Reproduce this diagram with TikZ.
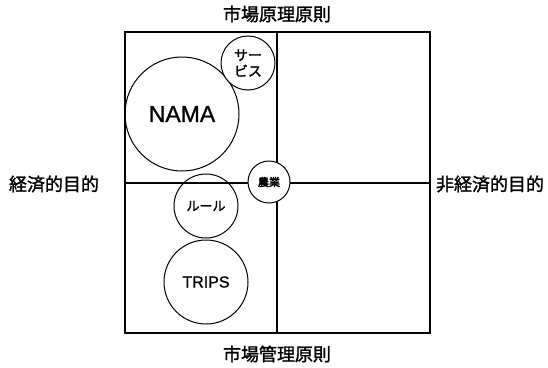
\documentclass[tikz,border=0pt]{standalone}
\usepackage{fontspec}
\setmainfont[FakeBold=1]{Liberation Sans}
\newfontfamily\jp[FakeBold=1.5]{Noto Sans CJK JP}
\newfontfamily\jpb[FakeBold=3]{Noto Sans CJK JP}
\begin{document}
\begin{tikzpicture}[x=1pt,y=-1pt,
  circ/.style={draw,circle,line width=1pt,inner sep=0pt},
  lab/.style={inner sep=0pt,font=\jp\fontsize{18}{20}\selectfont}]
\useasboundingbox (0,0) rectangle (548,367);
\node[draw,line width=1.2pt,minimum width=305pt,minimum height=301pt,inner sep=0pt] (box) at (277.5,182.5) {};
\coordinate (vt) at (277,32);
\coordinate (vb) at (277,333);
\coordinate (hl) at (125,183);
\coordinate (hr) at (430,183);
\draw[line width=1.2pt] (vt) -- (vb);
\draw[line width=1.2pt] (hl) -- (hr);
\node[circ,minimum size=114pt,font=\fontsize{23}{25}\selectfont] (nama) at (182,114) {NAMA};
\node[circ,minimum size=54pt,fill=white,font=\jp\fontsize{14}{16}\selectfont,align=center] (serv) at (248,63) {サー\\ビス};
\node[circ,minimum size=42pt,fill=white,font=\jpb\fontsize{11}{12}\selectfont] (nogyo) at (269,182) {農業};
\node[circ,minimum size=64pt,font=\jp\fontsize{13}{14}\selectfont] (rule) at (206,206) {ルール};
\node[circ,minimum size=84pt,font=\fontsize{16}{18}\selectfont] (trips) at (206,282) {TRIPS};
\node[lab] (top) at (277,14) {市場原理原則};
\node[lab] (bot) at (277,354) {市場管理原則};
\node[lab] (left) at (54,184) {経済的目的};
\node[lab] (right) at (490,184) {非経済的目的};
\end{tikzpicture}
\end{document}
